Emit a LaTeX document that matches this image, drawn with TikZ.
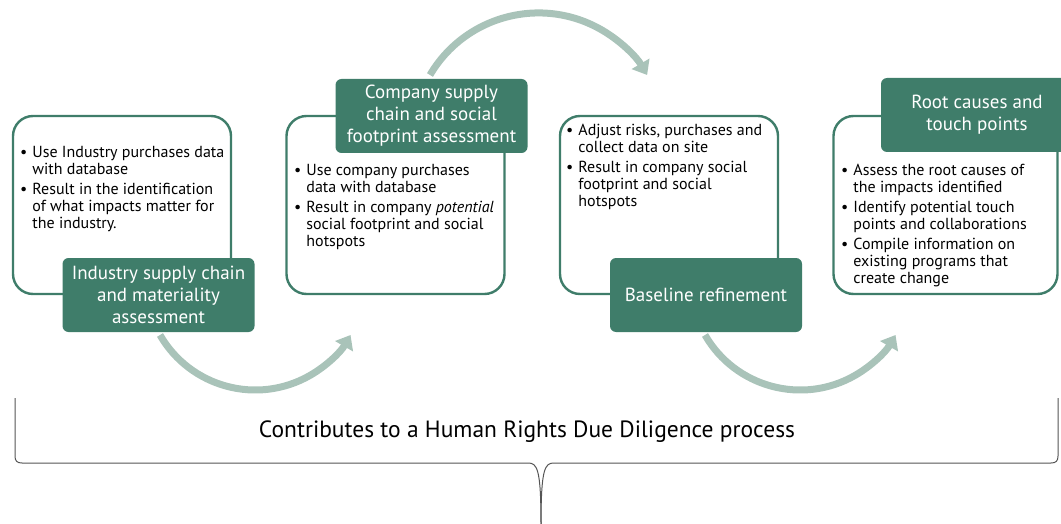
\documentclass[tikz,border=0pt]{standalone}
\usepackage{fontspec}
\setmainfont{PT Sans}
\usetikzlibrary{arrows.meta}
\definecolor{dg}{HTML}{3F7D6A}
\definecolor{arccol}{HTML}{A9C3B9}
\definecolor{brcol}{HTML}{555555}
\newcommand{\bul}{\textbullet}
\begin{document}
\begin{tikzpicture}[x=1pt,y=-1pt,
  panel/.style={draw=dg, line width=2.4pt, rounded corners=20pt, fill=white, minimum width=218pt, minimum height=178pt, inner sep=0pt},
  tag/.style={fill=dg, rounded corners=6pt, text=white, font=\fontsize{19}{22}\selectfont, align=center, minimum width=192pt, minimum height=74pt, inner sep=0pt},
  body/.style={anchor=north west, inner sep=0pt, font=\fontsize{16}{17}\selectfont, text=black},
  flow/.style={draw=arccol, line width=7pt, -{Triangle[length=13pt,width=20pt]}},
  brace/.style={draw=brcol, line width=1pt}]
\useasboundingbox (0,0) rectangle (1061,524);
\clip (0,0) rectangle (1061,524);
% panels
\node[panel] (p1) at (122,205) {};
\node[panel] (p2) at (395.5,205) {};
\node[panel] (p3) at (669,205) {};
\node[panel, minimum width=224pt] (p4) at (945.5,205) {};
% arcs
\coordinate (a1s) at (160,335);
\coordinate (a2s) at (430,75);
\coordinate (a3s) at (705,335);
\draw[flow] (a1s) arc[start angle=150, end angle=30, radius=110];
\draw[flow] (a2s) arc[start angle=210.5, end angle=329.5, radius=126];
\draw[flow] (a3s) arc[start angle=150, end angle=30, radius=110];
% tags
\node[tag] (t1) at (158.5,295) {Industry supply chain\\and materiality\\assessment};
\node[tag] (t2) at (431.5,116) {Company supply\\chain and social\\footprint assessment};
\node[tag] (t3) at (706,295) {Baseline refinement};
\node[tag] (t4) at (977,115) {Root causes and\\touch points};
% bodies
\node[body] (b1) at (20,145) {\begin{tabular}{@{}l@{\hspace{5pt}}l@{}}\bul & Use Industry purchases data\\ & with database\\[3pt] \bul & Result in the identification\\ & of what impacts matter for\\ & the industry.\end{tabular}};
\node[body] (b2) at (294,163) {\begin{tabular}{@{}l@{\hspace{5pt}}l@{}}\bul & Use company purchases\\ & data with database\\[3pt] \bul & Result in company \textit{potential}\\ & social footprint and social\\ & hotspots\end{tabular}};
\node[body] (b3) at (566,123) {\begin{tabular}{@{}l@{\hspace{5pt}}l@{}}\bul & Adjust risks, purchases and\\ & collect data on site\\[3pt] \bul & Result in company social\\ & footprint and social\\ & hotspots\end{tabular}};
\node[body] (b4) at (841,163) {\begin{tabular}{@{}l@{\hspace{5pt}}l@{}}\bul & Assess the root causes of\\ & the impacts identified\\[3pt] \bul & Identify potential touch\\ & points and collaborations\\[3pt] \bul & Compile information on\\ & existing programs that\\ & create change\end{tabular}};
% brace
\draw[brace] (15,398) -- (15,456) .. controls (15,461) and (17,463) .. (22,463) -- (528,463) .. controls (537,463) and (541,468) .. (541,524);
\draw[brace] (1058,398) -- (1058,456) .. controls (1058,461) and (1056,463) .. (1051,463) -- (554,463) .. controls (545,463) and (541,468) .. (541,524);
\node[font=\fontsize{23.5}{27}\selectfont] (hr) at (527,432) {Contributes to a Human Rights Due Diligence process};
\end{tikzpicture}
\end{document}
